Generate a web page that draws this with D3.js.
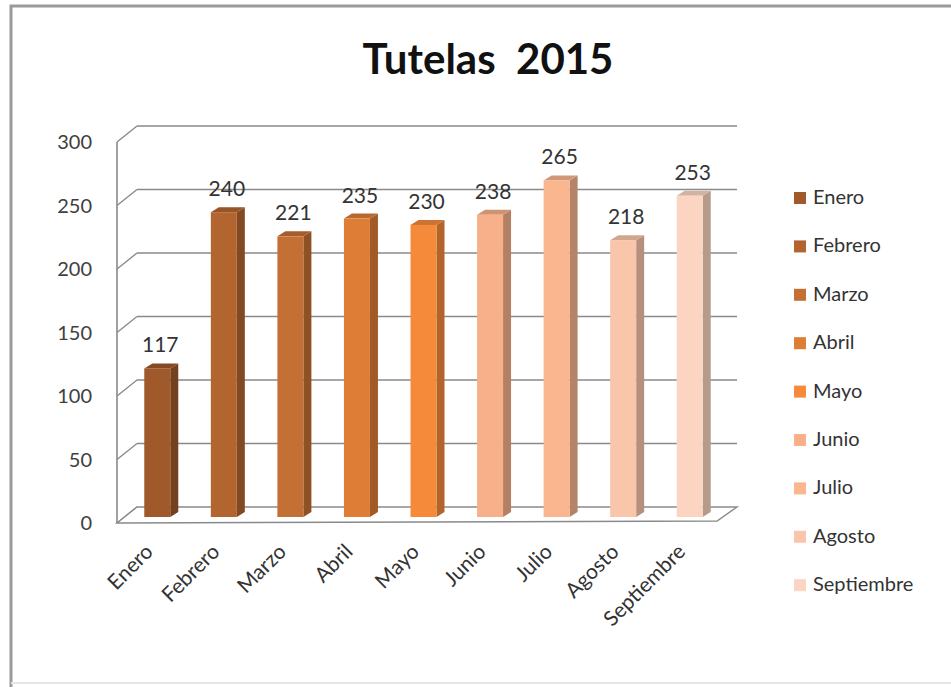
<!DOCTYPE html>
<html><head><meta charset="utf-8">
<script src="https://cdn.jsdelivr.net/npm/d3@7/dist/d3.min.js"></script>
<style>html,body{margin:0;padding:0;background:#fff;}svg{display:block;}</style>
</head><body>
<svg id="c" width="951" height="687"></svg>
<script>
const categories = ["Enero","Febrero","Marzo","Abril","Mayo","Junio","Julio","Agosto","Septiembre"];
const values = [117,240,221,235,230,238,265,218,253];
const colors = ["#a0592a","#b3652f","#c46f33","#de7e36","#f58a3b","#f8b08a","#f9b68f","#fac6ab","#fbd5c1"];
const yTicks = [0,50,100,150,200,250,300];
const title = "Tutelas  2015";

const svg = d3.select("#c");
const font = "Lato, 'Open Sans', sans-serif";
const grid = "#8a8a8a";

// frame
svg.append("path").attr("d","M11,687 L11,6 L951,6").attr("fill","none").attr("stroke","#9a9a9a").attr("stroke-width",3);
svg.append("line").attr("x1",11).attr("x2",951).attr("y1",683).attr("y2",683).attr("stroke","#e6e6e6").attr("stroke-width",2);

// scales
const yFront = d3.scaleLinear().domain([0,300]).range([523,142]);
const yBack = d3.scaleLinear().domain([0,300]).range([507,126]);
const yBar = d3.scaleLinear().domain([0,300]).range([517,136]);
const x = d3.scalePoint().domain(categories).range([124,723]).padding(0.5);
const xFront = 117, xBack = 137, xRightBack = 737, xRightFront = 717;
const bw = 26, ddx = 8, ddy = -5;

// title
svg.append("text").attr("x",488).attr("y",74).attr("text-anchor","middle").style("white-space","pre")
  .attr("font-family",font).attr("font-weight","bold").attr("font-size",42).attr("fill","#111").text(title);

// gridlines back wall
const g = svg.append("g");
yTicks.forEach(v=>{
  if(v>0) g.append("line").attr("x1",xBack).attr("x2",xRightBack).attr("y1",yBack(v)).attr("y2",yBack(v)).attr("stroke",grid).attr("stroke-width",1.6);
  g.append("line").attr("x1",xFront).attr("x2",xBack).attr("y1",yFront(v)).attr("y2",yBack(v)).attr("stroke",grid).attr("stroke-width",1.4);
});
// left front axis
g.append("line").attr("x1",xFront).attr("x2",xFront).attr("y1",yFront(0)).attr("y2",yFront(300)).attr("stroke",grid).attr("stroke-width",1.6);
// floor
g.append("path").attr("d",`M${xFront},${yFront(0)} L${xRightFront},${yFront(0)-2} L${xRightBack},${yBack(0)} L${xBack},${yBack(0)} Z`)
  .attr("fill","#fff").attr("stroke",grid).attr("stroke-width",1.4);

// y labels
yTicks.forEach(v=>{
  svg.append("text").attr("x",92).attr("y",yFront(v)+2).attr("text-anchor","end").attr("dominant-baseline","middle")
    .attr("font-family",font).attr("font-size",20).attr("fill","#404040").text(v);
});

// bars
const bars = svg.append("g");
categories.forEach((c,i)=>{
  const cx = x(c), x0 = cx-bw/2, x1 = cx+bw/2;
  const y0 = yBar(0), yt = yBar(values[i]);
  const col = d3.color(colors[i]);
  bars.append("path").attr("d",`M${x1},${y0} L${x1+ddx},${y0+ddy} L${x1+ddx},${yt+ddy} L${x1},${yt} Z`).attr("fill",col.darker(0.9));
  bars.append("path").attr("d",`M${x0},${yt} L${x0+ddx},${yt+ddy} L${x1+ddx},${yt+ddy} L${x1},${yt} Z`).attr("fill",col.darker(0.5));
  bars.append("rect").attr("x",x0).attr("y",yt).attr("width",bw).attr("height",y0-yt).attr("fill",col);
  svg.append("text").attr("x",cx+3).attr("y",yt-16).attr("text-anchor","middle")
    .attr("font-family",font).attr("font-size",21).attr("fill","#333").text(values[i]);
  svg.append("text").attr("transform",`translate(${cx-3},${553}) rotate(-45)`).attr("text-anchor","end")
    .attr("font-family",font).attr("font-size",21).attr("fill","#333").text(c);
});

// legend
const lg = svg.append("g");
categories.forEach((c,i)=>{
  const yy = 198 + i*48.4;
  lg.append("rect").attr("x",794).attr("y",yy-6).attr("width",12).attr("height",12).attr("fill",colors[i]);
  lg.append("text").attr("x",813).attr("y",yy+1).attr("dominant-baseline","middle")
    .attr("font-family",font).attr("font-size",20).attr("fill","#333").text(c);
});
</script>
</body></html>
